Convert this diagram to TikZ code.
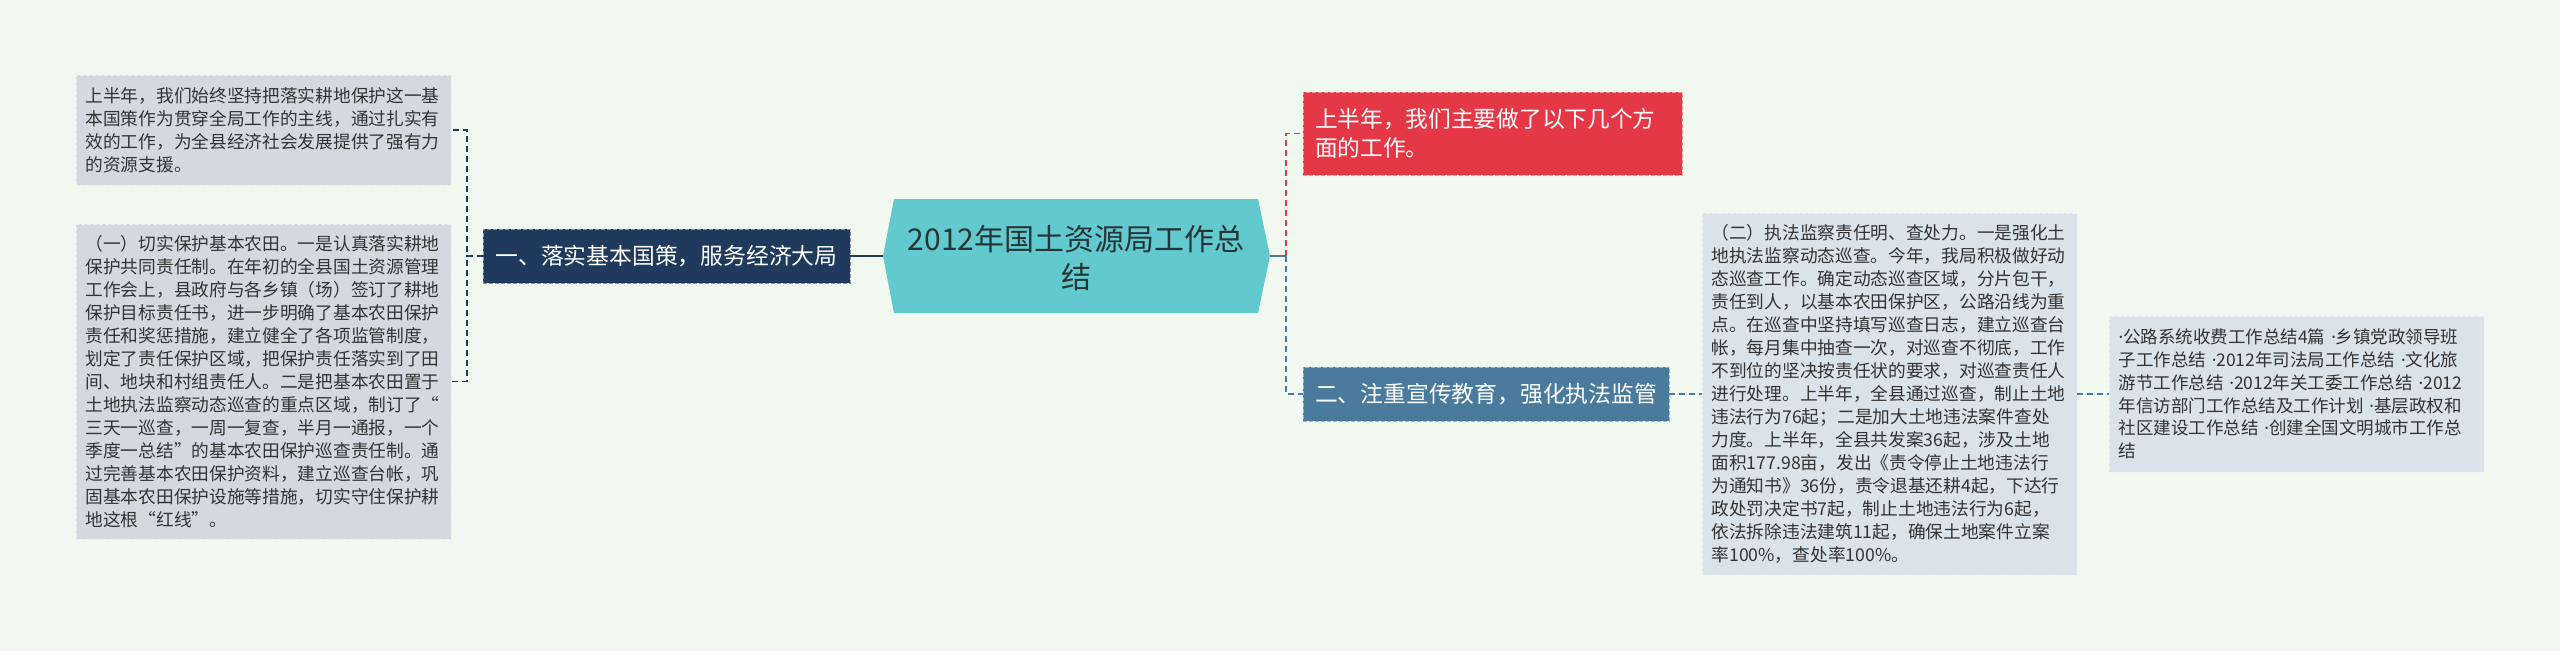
\documentclass[tikz,border=0pt]{standalone}
\usepackage{fontspec}
\setmainfont{Noto Sans CJK SC}
\newfontfamily\latinf{Noto Sans}
\newcommand{\md}{{\latinf ·}}
\definecolor{bg}{HTML}{F0F8EF}
\definecolor{navy}{HTML}{1F3A5C}
\definecolor{redn}{HTML}{E53846}
\definecolor{steel}{HTML}{4A7B9D}
\definecolor{teal}{HTML}{62CACE}
\definecolor{greyL}{HTML}{D4D9E0}
\definecolor{greyR}{HTML}{DAE2EA}
\definecolor{txt}{HTML}{333333}
\definecolor{ctxt}{HTML}{263536}
\begin{document}
\begin{tikzpicture}[x=1pt,y=-1pt,
  txtbox/.style={draw=white!55!#1, fill=#1, dash pattern=on 4pt off 2pt, line width=0.8pt,
    minimum width=375pt, text width=356pt, inner sep=0pt, align=left, text=txt,
    font=\fontsize{17.7}{23}\selectfont},
  branch/.style={fill=#1, draw=white!45!#1, dash pattern=on 4pt off 2pt, line width=0.8pt,
    minimum height=54pt, inner sep=0pt, text=white, font=\fontsize{22.8}{28}\selectfont},
  conn/.style={draw=#1, line width=1.8pt, dash pattern=on 6pt off 4pt},
  solidconn/.style={draw=#1, line width=2.2pt}]
\useasboundingbox[fill=bg] (0,0) rectangle (2560,651);

% central hexagon
\fill[teal] (894,199) -- (1258,199) -- (1270,256) -- (1258,313) -- (894,313) -- (883,256) -- cycle;
\coordinate (cW) at (883,256);
\coordinate (cE) at (1270,256);
\node[align=center, text=ctxt, inner sep=0pt, font=\fontsize{30}{38}\selectfont] (c) at (1076,258) {2012年国土资源局工作总\\结};

% left side
\node[txtbox=greyL, minimum height=110pt] (L1) at (263.5,130) {上半年，我们始终坚持把落实耕地保护这一基\\本国策作为贯穿全局工作的主线，通过扎实有\\效的工作，为全县经济社会发展提供了强有力\\的资源支援。};
\node[txtbox=greyL, minimum height=315pt] (L2) at (263.5,381.5) {（一）切实保护基本农田。一是认真落实耕地\\保护共同责任制。在年初的全县国土资源管理\\工作会上，县政府与各乡镇（场）签订了耕地\\保护目标责任书，进一步明确了基本农田保护\\责任和奖惩措施，建立健全了各项监管制度，\\划定了责任保护区域，把保护责任落实到了田\\间、地块和村组责任人。二是把基本农田置于\\土地执法监察动态巡查的重点区域，制订了“\\三天一巡查，一周一复查，半月一通报，一个\\季度一总结”的基本农田保护巡查责任制。通\\过完善基本农田保护资料，建立巡查台帐，巩\\固基本农田保护设施等措施，切实守住保护耕\\地这根“红线”。};
\node[branch=navy, minimum width=367pt] (B1) at (666.5,256) {一、落实基本国策，服务经济大局};

% right side
\node[branch=redn, minimum width=379pt, minimum height=83pt, text width=355pt, align=left,
  font=\fontsize{22.7}{28.5}\selectfont] (R1) at (1492.5,133.5) {上半年，我们主要做了以下几个方\\面的工作。};
\node[branch=steel, minimum width=366pt] (B2) at (1486,394) {二、注重宣传教育，强化执法监管};
\node[txtbox=greyR, minimum height=362pt] (R2) at (1889.5,394) {（二）执法监察责任明、查处力。一是强化土\\地执法监察动态巡查。今年，我局积极做好动\\态巡查工作。确定动态巡查区域，分片包干，\\责任到人，以基本农田保护区，公路沿线为重\\点。在巡查中坚持填写巡查日志，建立巡查台\\帐，每月集中抽查一次，对巡查不彻底，工作\\不到位的坚决按责任状的要求，对巡查责任人\\进行处理。上半年，全县通过巡查，制止土地\\违法行为76起；二是加大土地违法案件查处\\力度。上半年，全县共发案36起，涉及土地\\面积177.98亩，发出《责令停止土地违法行\\为通知书》36份，责令退基还耕4起，下达行\\政处罚决定书7起，制止土地违法行为6起，\\依法拆除违法建筑11起，确保土地案件立案\\率100\%，查处率100\%。};
\node[txtbox=greyR, minimum height=156pt, font=\fontsize{17.5}{22.7}\selectfont] (R3) at (2296.5,394) {\md 公路系统收费工作总结4篇~\md 乡镇党政领导班\\子工作总结~\md 2012年司法局工作总结~\md 文化旅\\游节工作总结~\md 2012年关工委工作总结~\md 2012\\年信访部门工作总结及工作计划~\md 基层政权和\\社区建设工作总结~\md 创建全国文明城市工作总\\结};

% connectors left
\draw[conn=navy] (B1.west) -- ++(-16,0) |- (L1.east);
\draw[conn=navy] (B1.west) -- ++(-16,0) |- (L2.east);
\draw[solidconn=navy] (B1.east) -- (cW);

% connectors right
\coordinate (rj) at (1286,256);
\draw[solidconn=steel] (cE) -- (rj);
\draw[conn=redn] (rj) |- (R1.west);
\draw[conn=steel] (rj) |- (B2.west);
\draw[conn=steel] (B2.east) -- (R2.west);
\draw[conn=steel] (R2.east) -- (R3.west);
\end{tikzpicture}
\end{document}
